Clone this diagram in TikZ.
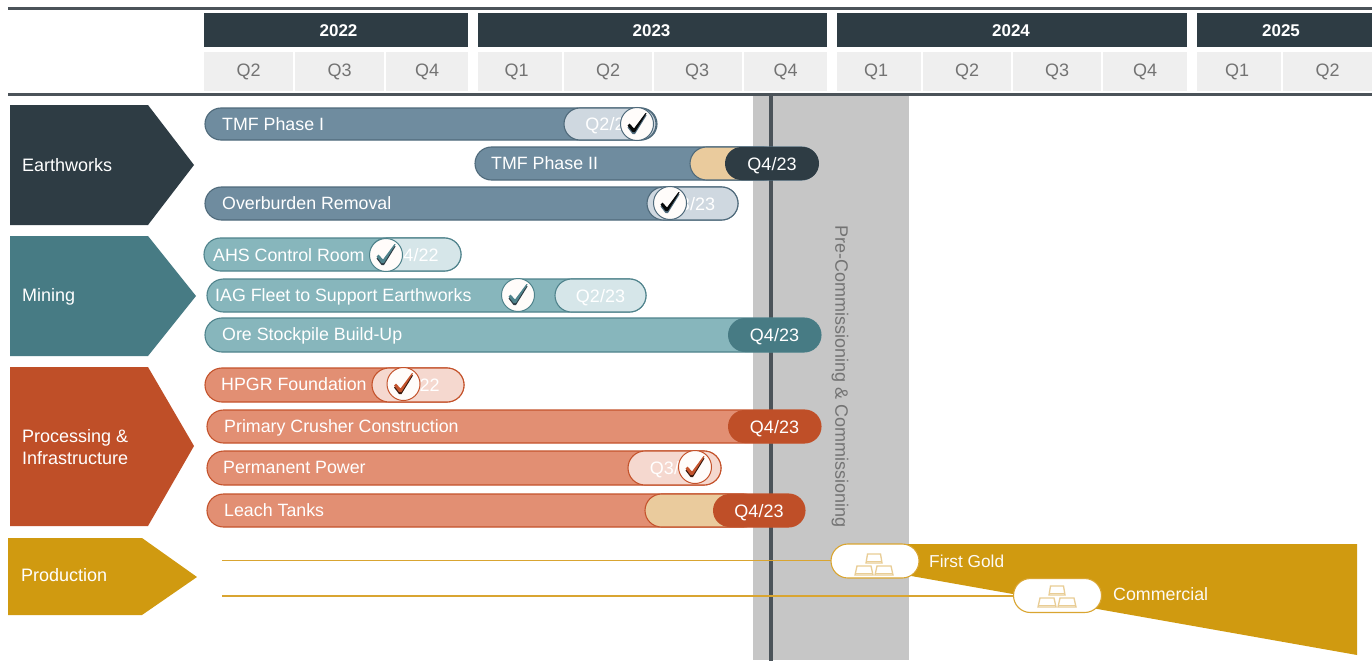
\documentclass[tikz,border=0pt]{standalone}
\usepackage{fontspec}
\setmainfont{Liberation Sans}
\definecolor{navy}{HTML}{2E3C44}
\definecolor{teal}{HTML}{477B84}
\definecolor{rust}{HTML}{BF4F28}
\definecolor{gold}{HTML}{D09A10}
\definecolor{slatebar}{HTML}{6F8C9F}
\definecolor{slateedge}{HTML}{4F6A7B}
\definecolor{slatepale}{HTML}{CFD8E0}
\definecolor{tealbar}{HTML}{87B6BC}
\definecolor{tealedge}{HTML}{4F838C}
\definecolor{tealpale}{HTML}{D6E6E9}
\definecolor{rustbar}{HTML}{E28F73}
\definecolor{rustedge}{HTML}{C4532C}
\definecolor{rustpale}{HTML}{F5D8CF}
\definecolor{tan}{HTML}{EACB9D}
\definecolor{band}{HTML}{C6C6C6}
\definecolor{cell}{HTML}{EFEFEF}
\definecolor{rule}{HTML}{4B5359}
\definecolor{goldline}{HTML}{D9A531}
\definecolor{icon}{HTML}{E9CD95}
\newcommand{\pill}[7]{%
  \pgfmathsetmacro{\pillw}{#4-#2}\pgfmathsetmacro{\pillh}{#5-#3}%
  \node[pillbase,#6,minimum width=\pillw pt,minimum height=\pillh pt,rounded corners=0.499*\pillh pt,anchor=north west] (#1) at (#2,#3) {#7};}
\newcommand{\chk}[6]{%
  \node[checkdisc,draw=#4] (#1) at (#2,#3) {};
  \pic at (#1) {tick={#5}{#6}};}
\newcommand{\goldbars}[2]{%
  \begin{scope}[shift={(#1,#2)}]
    \path[barshape] (-8,-2) -- (-6.5,-11) -- (6.5,-11) -- (8,-2) -- cycle;
    \draw[icon,line width=1pt] (-7,-4) -- (7,-4);
    \path[barshape] (-19,10) -- (-17,1) -- (-3,1) -- (-1,10) -- cycle;
    \draw[icon,line width=1pt] (-18,8) -- (-2,8);
    \path[barshape] (1,10) -- (3,1) -- (17,1) -- (19,10) -- cycle;
    \draw[icon,line width=1pt] (2,8) -- (18,8);
  \end{scope}}
\tikzset{
  x=1pt,y=-1pt,
  txt/.style={font=\fontsize{17.8}{22}\selectfont,text=white,inner sep=0pt,text height=13pt,text depth=0pt},
  chevlabel/.style={font=\fontsize{18}{22}\selectfont,text=white,inner sep=0pt,anchor=west,align=left},
  year/.style={fill=navy,text=white,inner sep=0pt,minimum height=34pt},
  yearlabel/.style={text=white,font=\fontsize{17}{20}\selectfont\bfseries,inner sep=0pt,text height=12pt,text depth=0pt},
  quarter/.style={fill=cell,text=black!55,font=\fontsize{18}{20}\selectfont,inner sep=0pt,minimum height=39pt,text height=13pt,text depth=3pt},
  pillbase/.style={rectangle,inner sep=0pt,outer sep=0pt,line width=1.1pt,font=\fontsize{18}{20}\selectfont,text=white,text height=13pt,text depth=0pt},
  sbar/.style={fill=slatebar,draw=slateedge},
  spale/.style={fill=slatepale,draw=slateedge},
  sdark/.style={fill=navy},
  tbar/.style={fill=tealbar,draw=tealedge},
  tpale/.style={fill=tealpale,draw=tealedge},
  tdark/.style={fill=teal},
  rbar/.style={fill=rustbar,draw=rustedge},
  rpale/.style={fill=rustpale,draw=rustedge},
  rdark/.style={fill=rust},
  tanpill/.style={fill=tan,draw=slateedge},
  tanpillr/.style={fill=tan,draw=rustedge},
  barlabel/.style={txt,anchor=west},
  checkdisc/.style={circle,fill=white!98!orange,line width=1pt,minimum size=33pt,inner sep=0pt},
  pics/tick/.style 2 args={code={
    \fill[#1] (-9.5,3.5) -- (-7.5,1.5) -- (-3,6.5) -- (8.5,-9) -- (9.5,-8.5) -- (-2,10) -- (-4.5,10) -- cycle;
    \fill[#2] (-9.5,1.5) -- (-7.5,-0.5) -- (-3,4.5) -- (8.5,-11) -- (9.5,-10.5) -- (-2,8) -- (-4.5,8) -- cycle;
  }},
  goldpill/.style={rectangle,inner sep=0pt,outer sep=0pt,line width=1.1pt,rounded corners=16.9pt,fill=white,draw=goldline,minimum width=88pt,minimum height=34pt},
  goldlabel/.style={txt,anchor=west,text=white!90!tan},
  goldrule/.style={draw=goldline,line width=1.3pt},
  barshape/.style={fill=white,draw=icon,line width=1.3pt},
  toprule/.style={draw=rule,line width=2.4pt},
}
\begin{document}
\begin{tikzpicture}
\useasboundingbox (0,0) rectangle (1372,661);
\fill[white] (0,0) rectangle (1372,661);

% header rules
\coordinate (tl) at (8,8.5); \coordinate (tr) at (1372,8.5);
\coordinate (bl) at (8,94.5); \coordinate (br) at (1372,94.5);
\draw[toprule] (tl) -- (tr);
\draw[toprule] (bl) -- (br);

% years
\newcommand{\ycell}[5]{\pgfmathsetmacro{\cw}{#3-#2}\node[year,minimum width=\cw pt,anchor=west] (#1) at (#2,30) {};\node[yearlabel] at (#4,31) {#5};}
\ycell{y22}{204}{468}{338.5}{2022}
\ycell{y23}{478}{827}{651.5}{2023}
\ycell{y24}{837}{1187}{1011}{2024}
\ycell{y25}{1197}{1372}{1281}{2025}

% quarters
\newcommand{\qcell}[4]{\pgfmathsetmacro{\cw}{#3-#2}\node[quarter,minimum width=\cw pt,anchor=west] (#1) at (#2,71.5) {#4};}
\qcell{a2}{204}{293}{Q2}
\qcell{a3}{295}{384}{Q3}
\qcell{a4}{386}{468}{Q4}
\qcell{b1}{478}{562}{\hspace*{-7pt}Q1}
\qcell{b2}{564}{652}{Q2}
\qcell{b3}{654}{742}{\hspace*{-2pt}Q3}
\qcell{b4}{744}{827}{Q4}
\qcell{c1}{837}{921}{\hspace*{-6pt}Q1}
\qcell{c2}{923}{1011}{Q2}
\qcell{c3}{1013}{1101}{Q3}
\qcell{c4}{1103}{1187}{Q4}
\qcell{d1}{1197}{1281}{\hspace*{-4pt}Q1}
\qcell{d2}{1283}{1372}{Q2}

% commissioning band
\fill[band] (753,96) rectangle (909,660);
\coordinate (vt) at (771,96); \coordinate (vb) at (771,661);
\draw[rule,line width=4pt] (vt) -- (vb);
\node[rotate=-90,font=\fontsize{18}{20}\selectfont,text=black!55,inner sep=0pt] (pc) at (840,377) {Pre-Commissioning \& Commissioning};

% chevrons
\fill[navy] (10,105) -- (148,105) -- (194,165) -- (148,225) -- (10,225) -- cycle;
\node[chevlabel] (ce) at (22,165) {Earthworks};
\fill[teal] (10,236) -- (148,236) -- (196,296) -- (148,356) -- (10,356) -- cycle;
\node[chevlabel] (cm) at (22,297) {Mining};
\fill[rust] (10,367) -- (148,367) -- (194,446) -- (148,526) -- (10,526) -- cycle;
\node[chevlabel] (cp) at (22,447) {Processing \&\\Infrastructure};
\fill[gold] (8,538) -- (142,538) -- (197,577) -- (142,615) -- (8,615) -- cycle;
\node[chevlabel] (cq) at (21,575) {Production};

% Earthworks bars
\pill{tmfa}{205}{108}{657}{140}{sbar}{}
\node[barlabel] at (222,124) {TMF Phase I};
\pill{tmfae}{564}{108}{656}{140}{spale}{Q2/23}
\chk{tmfac}{637}{124}{slateedge}{slateedge}{black!85!navy}

\pill{tmfb}{475}{147}{818}{180}{sbar}{}
\node[barlabel] at (491,163) {TMF Phase II};
\pill{tmfbt}{690}{147}{780}{180}{tanpill}{}
\pill{tmfbe}{725}{147}{819}{180}{sdark}{Q4/23}

\pill{over}{205}{187}{738}{220}{sbar}{}
\node[barlabel] at (222,203) {Overburden Removal};
\pill{overe}{647}{187}{738}{220}{spale}{\hspace*{-4pt}Q3/23}
\chk{overc}{670}{203}{slateedge}{slateedge}{black!85!navy}

% Mining bars
\pill{ahs}{204}{238}{461}{271}{tbar}{}
\node[barlabel] at (213,255) {AHS Control Room};
\pill{ahse}{370}{238}{461}{271}{tpale}{\hspace*{-3pt}Q4/22}
\chk{ahsc}{386}{255}{tealedge}{navy}{tealedge}

\pill{iag}{207}{279}{646}{312}{tbar}{}
\node[barlabel] at (215,295) {IAG Fleet to Support Earthworks};
\pill{iage}{555}{279}{646}{312}{tpale}{Q2/23}
\chk{iagc}{518}{295}{tealedge}{navy}{tealedge}

\pill{ore}{205}{318}{821}{352}{tbar}{}
\node[barlabel] at (222,334) {Ore Stockpile Build-Up};
\pill{oree}{728}{318}{821}{352}{tdark}{Q4/23}

% Processing bars
\pill{hpgr}{205}{368}{464}{402}{rbar}{}
\node[barlabel] at (221,384) {HPGR Foundation};
\pill{hpgre}{372}{368}{464}{402}{rpale}{\hspace*{-6pt}Q4/22}
\chk{hpgrc}{403.5}{384}{rustedge}{black!70!rust}{rustedge}

\pill{prim}{207}{410}{821}{443}{rbar}{}
\node[barlabel] at (224,426) {Primary Crusher Construction};
\pill{prime}{728}{410}{821}{443}{rdark}{Q4/23}

\pill{perm}{207}{451}{721}{485}{rbar}{}
\node[barlabel] at (223,467) {Permanent Power};
\pill{perme}{628}{451}{721}{485}{rpale}{Q3/23}
\chk{permc}{695}{467}{rustedge}{black!70!rust}{rustedge}

\pill{leach}{207}{494}{805}{527}{rbar}{}
\node[barlabel] at (224,510) {Leach Tanks};
\pill{leacht}{645}{494}{760}{527}{tanpillr}{}
\pill{leache}{713}{494}{805}{527}{rdark}{Q4/23}

% production wedge
\fill[gold] (900,544) -- (1357,544) -- (1357,655) -- (900,574) -- cycle;

% production milestones
\node[goldpill] (fg) at (875,561) {};
\node[goldpill] (cc) at (1057.5,595.5) {};
\goldbars{874}{565}
\goldbars{1057}{597}
\coordinate (fgs) at (222,560.5);
\coordinate (ccs) at (222,596);
\draw[goldrule] (fgs) -- (fgs -| fg.west);
\draw[goldrule] (ccs) -- (ccs -| cc.west);
\node[goldlabel,font=\fontsize{17.3}{20}\selectfont] (fgl) at (929,560.5) {First Gold};
\node[goldlabel] (ccl) at (1113,593.5) {Commercial};
\end{tikzpicture}
\end{document}
